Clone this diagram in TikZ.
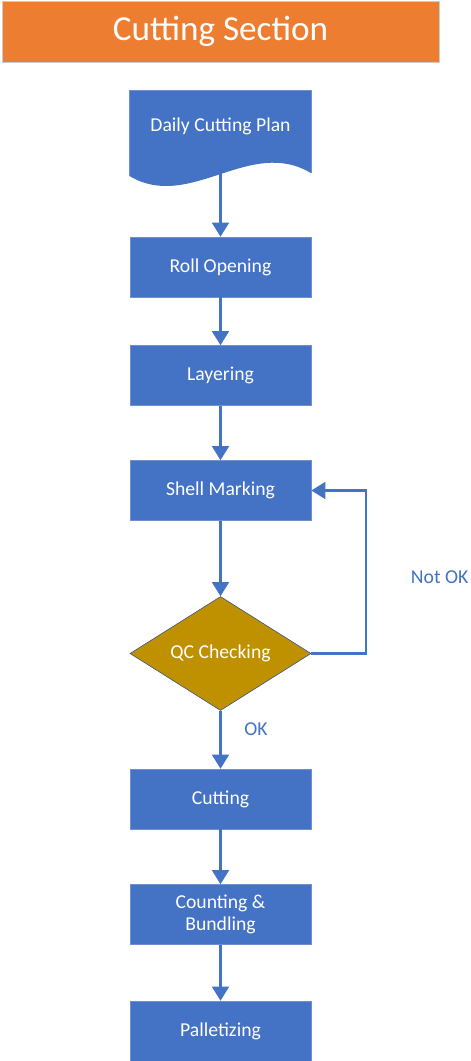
\documentclass[tikz,border=0pt]{standalone}
\usepackage{fontspec}
\setmainfont{Carlito}
\usepackage{tikz}
\usetikzlibrary{shapes.geometric, positioning, arrows.meta}
\definecolor{cutblue}{HTML}{4472C4}
\definecolor{cutedge}{HTML}{7090D0}
\definecolor{cutorange}{HTML}{ED7D31}
\definecolor{qcgold}{HTML}{BF9000}
\definecolor{qcedge}{HTML}{2F528F}

\begin{document}
\begin{tikzpicture}[x=0.025cm, y=-0.025cm,
  banner/.style={rectangle, fill=cutorange, draw=gray!40, text=white,
    font=\fontsize{25}{30}\selectfont, minimum width=10.925cm,
    minimum height=1.525cm},
  stepbox/.style={rectangle, fill=cutblue, draw=cutedge, thin, text=white,
    font=\fontsize{14}{16}\selectfont, align=center,
    minimum width=4.525cm, minimum height=1.5cm},
  check/.style={diamond, fill=qcgold, draw=qcedge, thin, text=white,
    font=\fontsize{14}{16}\selectfont, aspect=1.6, inner sep=0pt,
    minimum width=4.525cm, minimum height=2.85cm},
  flow/.style={draw=cutblue, line width=1.5pt,
    -{Triangle[length=3.5mm, width=4.2mm]}},
  tag/.style={text=cutblue, font=\fontsize{14}{16}\selectfont}
]
  \useasboundingbox (0,0) rectangle (470,1061);

  \node[banner] (title) at (220.5,31.5) {Cutting Section};

  % document shape with a wavy lower edge
  \node[minimum width=4.525cm, minimum height=2.05cm, inner sep=0pt] (plan) at (220.5,132) {};
  \fill[cutblue] (plan.north west) -- (plan.north east) -- (plan.south east)
    .. controls (250,136) and (190,212) .. ([yshift=-2pt]plan.south west) -- cycle;
  \draw[cutedge, thin] ([yshift=-2pt]plan.south west) -- (plan.north west)
    -- (plan.north east) -- (plan.south east);
  \node[text=white, font=\fontsize{14}{16}\selectfont] at (220.5,126) {Daily Cutting Plan};

  \node[stepbox] (roll)  at (220.5,267) {Roll Opening};
  \node[stepbox] (layer) at (220.5,375.5) {Layering};
  \node[stepbox] (mark)  at (220.5,490.5) {Shell Marking};
  \node[check]   (qc)    at (220.5,653.5) {QC Checking};
  \node[stepbox] (cut)   at (220.5,799) {Cutting};
  \node[stepbox] (count) at (220.5,914.5) {Counting \&\\Bundling};
  \node[stepbox] (pall)  at (220.5,1031) {Palletizing};

  \node[tag] (ok) at (256,729) {OK};
  \node[tag, anchor=east, inner xsep=1pt] (notok) at (470,577) {Not OK};

  \draw[flow] (plan.south) -- (roll);
  \draw[flow] (roll) -- (layer);
  \draw[flow] (layer) -- (mark);
  \draw[flow] (mark) -- (qc);
  \draw[flow] (qc) -- (cut);
  \draw[flow] (cut) -- (count);
  \draw[flow] (count) -- (pall);
  \draw[flow] (qc.east) -- ++(55,0) |- (mark.east);
\end{tikzpicture}
\end{document}
